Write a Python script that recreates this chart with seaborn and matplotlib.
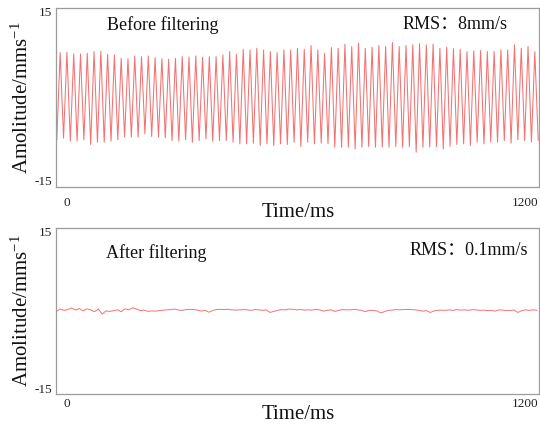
import numpy as np
import pandas as pd
import matplotlib
matplotlib.use("Agg")
import matplotlib.pyplot as plt
import seaborn as sns

# ---- vibration signal before filtering: successive troughs and peaks (mm/s) ----
troughs = [
    -7.86, -7.44, -7.98, -7.98, -7.74, -8.57, -8.15, -8.15, -7.98, -7.74,
    -7.26, -7.26, -7.26, -6.67, -7.14, -7.26, -7.38, -7.86, -7.98, -7.74,
    -8.15, -7.86, -7.56, -7.98, -7.86, -7.86, -8.15, -8.45, -8.45, -8.33,
    -8.75, -8.45,
    -8.75, -8.45, -8.57, -8.15, -8.93, -8.15, -8.45, -8.33, -8.45, -9.05,
    -9.05, -9.05, -9.35, -9.05, -8.93, -9.05, -9.05, -9.05, -8.93, -9.05,
    -8.93, -9.94, -9.05, -9.05, -8.93, -9.35, -8.87, -8.57, -8.45, -8.75,
    -8.15, -8.45, -8.15, -8.15, -7.86, -8.33, -7.74, -7.86, -8.15, -7.86,
]
peaks = [
    7.74, 7.80, 7.50, 7.50, 7.62, 7.92, 7.98, 7.44, 7.32, 6.73,
    6.67, 7.14, 7.02, 7.14, 6.85, 6.67, 6.55, 6.73, 7.02, 6.96,
    7.14, 6.90, 7.02, 7.02, 7.32, 7.92, 7.44, 8.33, 8.21, 8.51,
    8.21,
    7.92, 7.74, 8.21, 8.21, 8.51, 8.33, 8.99, 8.21, 7.62, 8.63,
    8.51, 9.23, 8.81, 9.40, 8.51, 8.69, 8.99, 8.81, 9.52, 8.81,
    8.99, 9.11, 9.29, 9.11, 9.23, 8.51, 8.69, 8.45, 8.33, 7.92,
    8.04, 8.10, 7.92, 7.92, 8.21, 8.21, 9.11, 8.51, 8.81, 7.92,
]
raw_start_ms, raw_end_ms = -27, 1235

# ---- vibration signal after filtering, sampled every 10 ms (mm/s) ----
filt_start_ms, filt_step_ms = -28, 10
filtered = [
    -0.30, 0.15, -0.10, 0.05, 0.35, -0.05, 0.25, -0.20, 0.20, 0.00,
    -0.35, 0.15, -0.80, -0.20, -0.30, -0.15, 0.00, -0.35, 0.20, 0.00,
    0.40, 0.15, -0.15, -0.05, -0.30, -0.20, -0.25, -0.15, -0.05, 0.00,
    0.05, 0.15, -0.05, -0.10, 0.05, 0.10, 0.05, -0.05, -0.25, -0.10,
    -0.45, -0.10, 0.05, 0.10, 0.05, 0.10, 0.00, -0.05, 0.00, 0.05,
    0.00, -0.10, 0.05, 0.00, -0.10, 0.00, -0.50, -0.30, -0.10, 0.05,
    0.00, 0.15, 0.10, 0.00, 0.05, -0.05, 0.00, -0.05, 0.10, 0.00,
    -0.25, -0.10, 0.00, -0.30, -0.10, 0.05, 0.00, 0.00, 0.10, 0.00,
    -0.10, -0.35, -0.10, -0.10, -0.20, -0.60, -0.35, -0.10, -0.05, 0.05,
    0.00, 0.05, 0.10, 0.05, 0.00, -0.10, -0.25, -0.15, -0.50, -0.20,
    -0.10, -0.05, -0.10, 0.00, -0.10, 0.05, -0.05, 0.00, -0.10, 0.05,
    0.00, -0.10, -0.05, -0.15, -0.10, -0.25, 0.00, -0.05, -0.15, -0.10,
    -0.05, -0.50, -0.15, 0.00, -0.10, 0.00, -0.10,
]

panel_titles = ["Before filtering", "After filtering"]
rms_labels = ["RMS：8mm/s", "RMS：0.1mm/s"]
y_ticks = [-15, 15]
x_ticks = [0, 1200]

# interleave trough/peak sequence into one waveform
raw_vals = [troughs[0]]
for p, t in zip(peaks, troughs[1:]):
    raw_vals += [p, t]
raw_df = pd.DataFrame({
    "time": np.linspace(raw_start_ms, raw_end_ms, len(raw_vals)),
    "amp": raw_vals,
})
filt_df = pd.DataFrame({
    "time": filt_start_ms + filt_step_ms * np.arange(len(filtered)),
    "amp": filtered,
})

sns.set_style("white")
serif = ["Liberation Serif", "Noto Sans CJK SC"]
plt.rcParams["font.family"] = serif
plt.rcParams["mathtext.default"] = "regular"

fig = plt.figure(figsize=(5.4, 4.25), dpi=100)
ax_top = fig.add_axes([0.1037, 0.560, 0.8944, 0.4212])
ax_bot = fig.add_axes([0.1037, 0.0729, 0.8944, 0.3906])

line_color = "#f37272"
sns.lineplot(data=raw_df, x="time", y="amp", ax=ax_top, color=line_color,
             linewidth=0.75, estimator=None, sort=False)
sns.lineplot(data=filt_df, x="time", y="amp", ax=ax_bot, color=line_color,
             linewidth=0.7, estimator=None, sort=False)

settings = [
    (ax_top, 7, (0.501, -0.089), (0.106, 0.905), (0.718, 0.905)),
    (ax_bot, 3, (0.501, -0.066), (0.1035, 0.849), (0.731, 0.867)),
]
for i, (ax, xpad, xl_pos, title_pos, rms_pos) in enumerate(settings):
    ax.set_xlim(-29, 1237)
    ax.set_ylim(-16.1, 15.65)
    ax.set_xticks(x_ticks)
    ax.set_yticks(y_ticks)
    ax.set_xticklabels([str(v) for v in x_ticks])
    ax.set_yticklabels([str(v) for v in y_ticks])
    ax.tick_params(axis="both", length=0, labelsize=9.5, colors="#222222")
    ax.tick_params(axis="x", pad=xpad)
    ax.tick_params(axis="y", pad=3)
    for s in ax.spines.values():
        s.set_visible(True)
        s.set_color("#9c9c9c")
        s.set_linewidth(0.9)
    ax.set_xlabel("Time/ms", fontsize=15, color="#111111")
    ax.xaxis.set_label_coords(*xl_pos)
    ax.set_ylabel("Amolitude/mms$^{-1}$", fontsize=15, color="#111111")
    ax.yaxis.set_label_coords(-0.047, 0.5)
    ax.text(*title_pos, panel_titles[i], transform=ax.transAxes, fontsize=13,
            ha="left", va="center", color="#111111", family=serif)
    ax.text(*rms_pos, rms_labels[i], transform=ax.transAxes, fontsize=13,
            ha="left", va="center", color="#111111", family=serif)

fig.savefig("out.png", dpi=100)
